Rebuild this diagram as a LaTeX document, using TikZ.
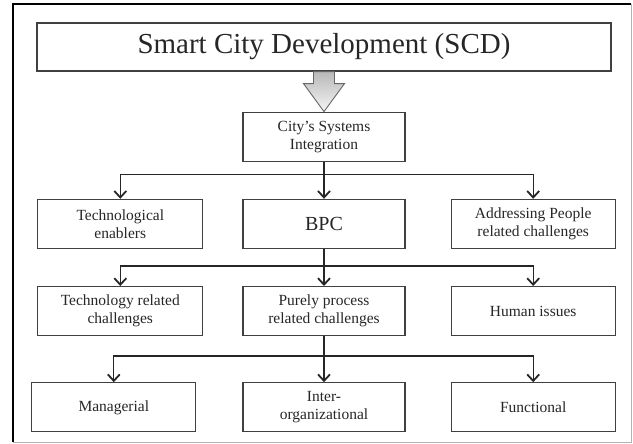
\documentclass[tikz,border=0pt]{standalone}
\usepackage{fontspec}
\setmainfont{Liberation Serif}
\usepackage{tikz}
\usetikzlibrary{arrows.meta,positioning,calc}

\begin{document}
\begin{tikzpicture}[
    node distance=37pt and 39pt,
    every node/.style={font=\fontsize{15.5}{18}\selectfont, text=black!85},
    box/.style={
      rectangle, draw=black!75, line width=1.2pt,
      minimum width=162pt, minimum height=49pt,
      align=center, inner sep=2pt
    },
    titlebox/.style={
      box, minimum width=574pt, minimum height=48pt,
      font=\fontsize{29}{34}\selectfont
    },
    arr/.style={-{Straight Barb[length=6.5pt,width=12pt,line width=1.8pt]}, line width=1.3pt, draw=black!85},
    fatarrow/.style={draw=black!60, line width=0.9pt, top color=gray!55, bottom color=gray!8}
  ]
  \useasboundingbox (-324pt,47pt) rectangle (309pt,-397pt);

  % Outer frame
  \coordinate (fnw) at (-311pt,43pt);
  \coordinate (fse) at (307pt,-395pt);
  \draw[black, line width=2pt] (fse -| fnw) -- (fnw) -- (fnw -| fse);
  \draw[gray!60, line width=0.8pt] (fnw -| fse) -- (fse) -- (fse -| fnw);

  % Top of the tree
  \node[titlebox] (title) {Smart City Development (SCD)};
  \node[box, below=40pt of title] (csi) {City's Systems\\Integration};

  % Second level
  \node[box, below=of csi, font=\fontsize{20}{24}\selectfont] (bpc) {BPC};
  \node[box, minimum width=165pt, left=of bpc] (techen) {Technological\\enablers};
  \node[box, minimum width=164pt, right=45pt of bpc] (people) {Addressing People\\related challenges};

  % Third level
  \node[box, below=of bpc] (purely) {Purely process\\related challenges};
  \node[box, minimum width=165pt, left=of purely] (techch) {Technology related\\challenges};
  \node[box, minimum width=164pt, right=45pt of purely] (human) {Human issues};

  % Fourth level
  \node[box, below=46pt of purely] (inter) {Inter-\\organizational};
  \node[box, minimum width=164pt, left=46pt of inter] (manag) {Managerial};
  \node[box, minimum width=164pt, right=45pt of inter] (func) {Functional};

  % Hollow arrow
  \draw[fatarrow] ([xshift=-10.5pt]title.south)
    -- ([xshift=-10.5pt,yshift=-12pt]title.south)
    -- ([xshift=-20.5pt,yshift=-12pt]title.south)
    -- (csi.north)
    -- ([xshift=20.5pt,yshift=-12pt]title.south)
    -- ([xshift=10.5pt,yshift=-12pt]title.south)
    -- ([xshift=10.5pt]title.south) -- cycle;

  % Branch points
  \coordinate (j1) at ($(csi.south)!0.35!(bpc.north)$);
  \coordinate (j2) at ($(bpc.south)!0.46!(purely.north)$);
  \coordinate (j3) at ($(purely.south)!0.43!(inter.north)$);

  % Arrows
  \draw[arr] (csi.south) -- (bpc.north);
  \draw[arr] (j1) -| (techen.north);
  \draw[arr] (j1) -| (people.north);
  \draw[arr] (bpc.south) -- (purely.north);
  \draw[arr] (j2) -| (techch.north);
  \draw[arr] (j2) -| (human.north);
  \draw[arr] (purely.south) -- (inter.north);
  \draw[arr] (j3) -| (manag.north);
  \draw[arr] (j3) -| (func.north);

\end{tikzpicture}
\end{document}
